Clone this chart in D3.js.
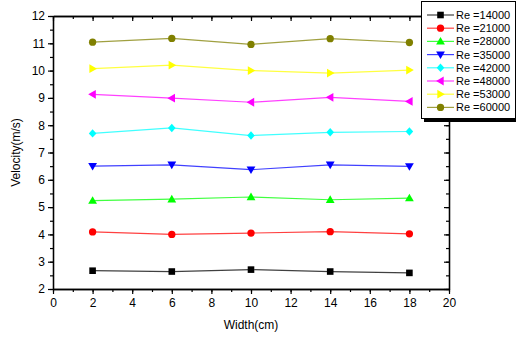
<!DOCTYPE html>
<html>
<head>
<meta charset="utf-8">
<script src="https://cdn.jsdelivr.net/npm/d3@7"></script>
<style>
  body { margin: 0; background: #fff; }
  text { font-family: "Liberation Sans", Arial, sans-serif; }
</style>
</head>
<body>
<script>
const width = 516
const height = 338

// data
const widths = [2, 6, 10, 14, 18]
const seriesNames = ["Re =14000", "Re =21000", "Re =28000", "Re =35000", "Re =42000", "Re =48000", "Re =53000", "Re =60000"]
const re14000 = [2.67, 2.64, 2.71, 2.64, 2.59]
const re21000 = [4.09, 4.00, 4.05, 4.10, 4.02]
const re28000 = [5.24, 5.29, 5.37, 5.27, 5.33]
const re35000 = [6.50, 6.55, 6.37, 6.55, 6.49]
const re42000 = [7.70, 7.90, 7.62, 7.74, 7.77]
const re48000 = [9.13, 8.99, 8.84, 9.02, 8.87]
const re53000 = [10.07, 10.20, 10.00, 9.91, 10.02]
const re60000 = [11.04, 11.18, 10.96, 11.17, 11.03]
const allSeries = [re14000, re21000, re28000, re35000, re42000, re48000, re53000, re60000]
const colors = ["#000000", "#ff0000", "#00ff00", "#0000ff", "#00ffff", "#ff00ff", "#ffff00", "#808000"]
const shapes = ["square", "circle", "triUp", "triDown", "diamond", "triLeft", "triRight", "circle"]
const xTicks = [0, 2, 4, 6, 8, 10, 12, 14, 16, 18, 20]
const yTicks = [2, 3, 4, 5, 6, 7, 8, 9, 10, 11, 12]

const margin = { left: 53, right: 67, top: 16, bottom: 49 }

const svg = d3.select("body").append("svg")
  .attr("width", width)
  .attr("height", height)

const x = d3.scaleLinear().domain([0, 20]).range([margin.left, width - margin.right])
const y = d3.scaleLinear().domain([2, 12]).range([height - margin.bottom, margin.top])

// minor ticks
const xMinor = d3.range(0, 20.01, 1)
const yMinor = d3.range(2, 12.01, 0.5)

function styleAxis(g) {
  g.selectAll("path").attr("stroke", "#000").attr("stroke-width", 1.3)
  g.selectAll("line").attr("stroke", "#000").attr("stroke-width", 1.2)
  g.selectAll("text").attr("font-size", 12).attr("fill", "#000")
}

// bottom
svg.append("g").attr("transform", `translate(0,${y(2)})`)
  .call(d3.axisBottom(x).tickValues(xMinor).tickSize(3).tickFormat("").tickSizeOuter(0))
  .call(styleAxis)
svg.append("g").attr("transform", `translate(0,${y(2)})`)
  .call(d3.axisBottom(x).tickValues(xTicks).tickSize(5).tickPadding(4).tickSizeOuter(0))
  .call(styleAxis)
// top (inward)
svg.append("g").attr("transform", `translate(0,${y(12)})`)
  .call(d3.axisTop(x).tickValues(xMinor).tickSize(-3).tickFormat("").tickSizeOuter(0))
  .call(styleAxis)
svg.append("g").attr("transform", `translate(0,${y(12)})`)
  .call(d3.axisTop(x).tickValues(xTicks).tickSize(-5).tickFormat("").tickSizeOuter(0))
  .call(styleAxis)
// left
svg.append("g").attr("transform", `translate(${x(0)},0)`)
  .call(d3.axisLeft(y).tickValues(yMinor).tickSize(3).tickFormat("").tickSizeOuter(0))
  .call(styleAxis)
svg.append("g").attr("transform", `translate(${x(0)},0)`)
  .call(d3.axisLeft(y).tickValues(yTicks).tickSize(5).tickPadding(3).tickSizeOuter(0))
  .call(styleAxis)
// right (inward)
svg.append("g").attr("transform", `translate(${x(20)},0)`)
  .call(d3.axisRight(y).tickValues(yMinor).tickSize(-3).tickFormat("").tickSizeOuter(0))
  .call(styleAxis)
svg.append("g").attr("transform", `translate(${x(20)},0)`)
  .call(d3.axisRight(y).tickValues(yTicks).tickSize(-5).tickFormat("").tickSizeOuter(0))
  .call(styleAxis)

// axis titles
svg.append("text")
  .attr("x", (x(0) + x(20)) / 2)
  .attr("y", 329)
  .attr("text-anchor", "middle")
  .attr("font-size", 12)
  .text("Width(cm)")

svg.append("text")
  .attr("transform", `translate(20,${(y(2) + y(12)) / 2}) rotate(-90)`)
  .attr("text-anchor", "middle")
  .attr("font-size", 12)
  .text("Velocity(m/s)")

// marker symbol paths
function markerPath(shape) {
  const s = 3.8
  switch (shape) {
    case "square": return `M${-3.3},${-3.3}h6.6v6.6h-6.6Z`
    case "circle": return d3.symbol(d3.symbolCircle, 42)()
    case "triUp": return `M0,${-s - 0.6}L${s + 0.6},${s - 0.6}L${-s - 0.6},${s - 0.6}Z`
    case "triDown": return `M0,${s + 0.6}L${s + 0.6},${-s + 0.6}L${-s - 0.6},${-s + 0.6}Z`
    case "triLeft": return `M${-s - 0.6},0L${s - 0.6},${-s - 0.6}L${s - 0.6},${s + 0.6}Z`
    case "triRight": return `M${s + 0.6},0L${-s + 0.6},${-s - 0.6}L${-s + 0.6},${s + 0.6}Z`
    case "diamond": return `M0,${-s - 0.4}L${s},0L0,${s + 0.4}L${-s},0Z`
  }
}

const line = d3.line().x((d, i) => x(widths[i])).y(d => y(d))

allSeries.forEach((vals, k) => {
  const g = svg.append("g")
  g.append("path")
    .attr("d", line(vals))
    .attr("fill", "none")
    .attr("stroke", colors[k])
    .attr("stroke-opacity", 0.75)
    .attr("stroke-width", 1.2)
  g.selectAll("path.m")
    .data(vals)
    .enter()
    .append("path")
    .attr("class", "m")
    .attr("transform", (d, i) => `translate(${x(widths[i])},${y(d)})`)
    .attr("d", markerPath(shapes[k]))
    .attr("fill", colors[k])
})

// legend
const lg = svg.append("g").attr("transform", "translate(421,1)")
lg.append("rect").attr("x", 3).attr("y", 3).attr("width", 96).attr("height", 118).attr("fill", "#000")
lg.append("rect").attr("x", 0.5).attr("y", 0.5).attr("width", 94).attr("height", 117)
  .attr("fill", "#fff").attr("stroke", "#000").attr("stroke-width", 1)

seriesNames.forEach((name, k) => {
  const row = lg.append("g").attr("transform", `translate(0,${14 + k * 13.2})`)
  row.append("line").attr("x1", 6).attr("x2", 33).attr("y1", 0).attr("y2", 0)
    .attr("stroke", colors[k]).attr("stroke-opacity", 0.75).attr("stroke-width", 1.2)
  row.append("path").attr("transform", "translate(19.5,0)").attr("d", markerPath(shapes[k])).attr("fill", colors[k])
  row.append("text").attr("x", 35).attr("y", 4).attr("font-size", 11).text(name)
})
</script>
</body>
</html>
